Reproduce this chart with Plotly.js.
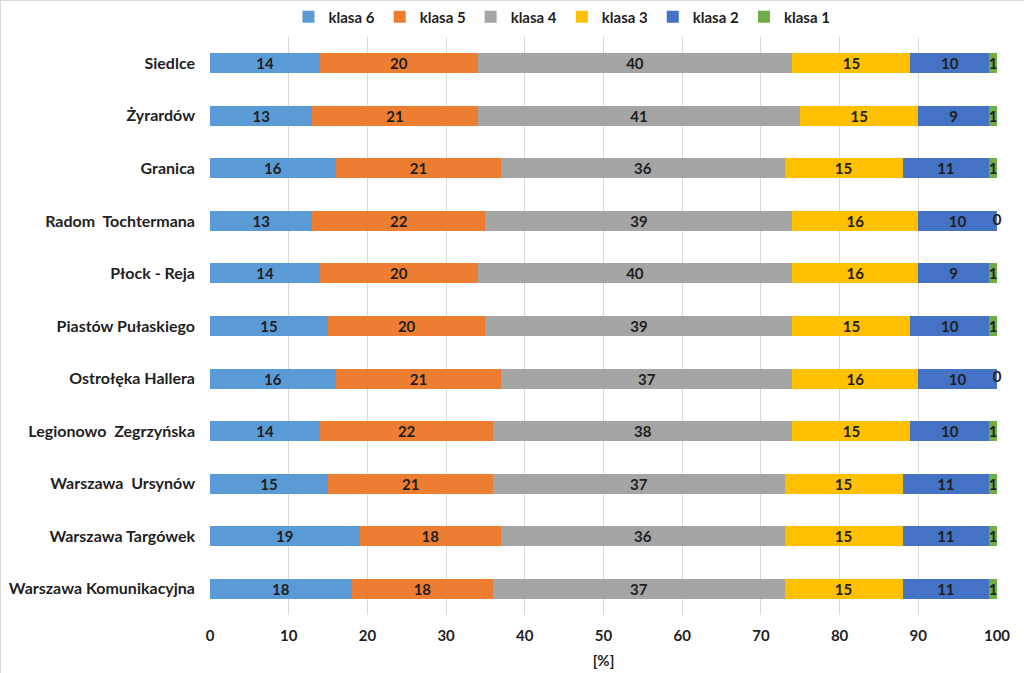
<!DOCTYPE html>
<html>
<head>
<meta charset="utf-8">
<script src="https://cdn.plot.ly/plotly-3.0.1.min.js"></script>
<style>
html,body{margin:0;padding:0;background:#fff;}
#chart{width:1024px;height:673px;box-sizing:border-box;border:1px solid #d9d9d9;}
</style>
</head>
<body>
<div id="chart"></div>
<script>
const stations = ["Siedlce","Żyrardów","Granica","Radom  Tochtermana","Płock - Reja","Piastów Pułaskiego","Ostrołęka Hallera","Legionowo  Zegrzyńska","Warszawa  Ursynów","Warszawa Targówek","Warszawa Komunikacyjna"];
const klasa6 = [14,13,16,13,14,15,16,14,15,19,18];
const klasa5 = [20,21,21,22,20,20,21,22,21,18,18];
const klasa4 = [40,41,36,39,40,39,37,38,37,36,37];
const klasa3 = [15,15,15,16,16,15,16,15,15,15,15];
const klasa2 = [10,9,11,10,9,10,10,10,11,11,11];
const klasa1 = [1,1,1,0,1,1,0,1,1,1,1];
const seriesNames = ["klasa 6","klasa 5","klasa 4","klasa 3","klasa 2","klasa 1"];
const seriesColors = ["#5B9BD5","#ED7D31","#A5A5A5","#FFC000","#4472C4","#70AD47"];
const seriesValues = [klasa6,klasa5,klasa4,klasa3,klasa2,klasa1];
const xTicks = [0,10,20,30,40,50,60,70,80,90,100];

const FONT = "Lato, 'Open Sans', Arial, sans-serif";
const TXT = '#1f1f1f';
const traces = seriesValues.map((vals,i)=>({
  type:'bar', orientation:'h', name:seriesNames[i],
  y:stations, x:vals,
  marker:{color:seriesColors[i]},
  width:0.38,
  text:vals.map(String),
  textposition:'inside',
  insidetextanchor:'middle',
  constraintext:'none',
  textangle:0,
  insidetextfont:{family:FONT,size:15,color:TXT,weight:'bold'},
  cliponaxis:false,
  hoverinfo:'x+name'
}));

// zero-value labels for klasa 1 (library does not draw text on empty bars)
const totals = stations.map((s,j)=>seriesValues.reduce((a,v)=>a+v[j],0));
const zeroIdx = klasa1.map((v,j)=>v===0?j:-1).filter(j=>j>=0);
traces.push({
  type:'scatter', mode:'text', showlegend:false,
  x:zeroIdx.map(j=>totals[j]), y:zeroIdx.map(j=>stations[j]),
  text:zeroIdx.map(j=>String(klasa1[j])),
  textposition:'middle center',
  textfont:{family:FONT,size:15,color:TXT,weight:'bold'},
  cliponaxis:false, hoverinfo:'skip'
});

const layout = {
  width:1024,height:673,
  barmode:'stack',
  margin:{l:209,r:28,t:36,b:59},
  paper_bgcolor:'#fff',plot_bgcolor:'#fff',
  font:{family:FONT,size:15,color:TXT,weight:'bold'},
  showlegend:true,
  legend:{orientation:'h',x:561/1024,xref:'container',xanchor:'center',y:1-16/673,yref:'container',yanchor:'middle',
    font:{family:FONT,size:15,color:TXT,weight:'bold'},traceorder:'normal',itemwidth:30},
  xaxis:{range:[0,100],tickvals:xTicks,ticktext:xTicks.map(String),
    showgrid:true,gridcolor:'#d9d9d9',gridwidth:1,zeroline:false,showline:false,
    ticks:'',ticklabelstandoff:10,
    tickfont:{family:FONT,size:15,color:TXT,weight:'bold'},
    title:{text:'[%]',font:{family:FONT,size:15,color:TXT,weight:'bold'},standoff:12}},
  yaxis:{type:'category',categoryorder:'array',categoryarray:stations,autorange:'reversed',
    showgrid:false,zeroline:false,showline:false,ticks:'',ticklabelstandoff:14,
    tickfont:{family:FONT,size:16,color:TXT,weight:'bold'}},
  bargap:0.62
};
Plotly.newPlot('chart',traces,layout,{displayModeBar:false,staticPlot:true});
</script>
</body>
</html>
